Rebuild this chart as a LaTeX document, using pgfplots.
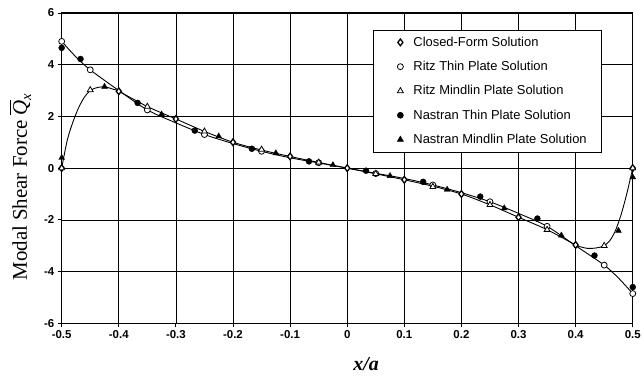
\documentclass[border=0pt]{standalone}
\usepackage{amsmath}
\usepackage{pgfplots}
\pgfplotsset{compat=1.18}
\usepackage{fontspec}
\setmainfont{Liberation Serif}
\newfontfamily\arial{Liberation Sans}
\begin{document}
\begin{tikzpicture}
\begin{axis}[
  scale only axis,
  width=574pt, height=312pt,
  xmin=-0.5, xmax=0.5, ymin=-6, ymax=6,
  xtick={-0.5,-0.4,-0.3,-0.2,-0.1,0,0.1,0.2,0.3,0.4,0.5},
  xticklabels={-0.5,-0.4,-0.3,-0.2,-0.1,0,0.1,0.2,0.3,0.4,0.5},
  ytick={-6,-4,-2,0,2,4,6},
  yticklabels={-6,-4,-2,0,2,4,6},
  tick align=outside, tick pos=left,
  major tick length=4pt,
  every tick/.style={black, line width=0.8pt},
  ticklabel style={font=\arial\bfseries\fontsize{11.5}{13}\selectfont},
  grid=major,
  major grid style={black, line width=0.6pt},
  axis line style={black, line width=1.1pt},
  clip=false,
  ylabel={Modal Shear Force $\overline{\textit{Q}}_{\textit{x}}$},
  ylabel style={font=\fontsize{21}{24}\selectfont, at={(axis description cs:-0.073,0.44)}, anchor=center, rotate=0},
  xlabel={\textbf{\textit{x/a}}},
  xlabel style={font=\fontsize{20}{24}\selectfont, at={(axis description cs:0.533,-0.13)}, anchor=center},
  legend style={at={(rel axis cs:0.946,0.946)}, anchor=north east, draw=black, line width=0.6pt,
    font=\arial\fontsize{13}{15}\selectfont, row sep=9.5pt, inner xsep=13pt, inner ysep=5pt, fill=white,
    /tikz/every odd column/.append style={column sep=4pt}},
  legend cell align=left,
  legend image code/.code={\path[draw=none] (0cm,0cm) (0.75cm,0cm); \path[#1, draw=none] plot coordinates {(0.5cm,0cm)};},
]
% smooth curves
\addplot[black, line width=0.9pt, smooth, tension=0.5, forget plot] coordinates {
(-0.5,0) (-0.49,1.1) (-0.48,1.8) (-0.47,2.35) (-0.46,2.75) (-0.45,3.0) (-0.44,3.1) (-0.43,3.14) (-0.42,3.12) (-0.41,3.05) (-0.4,2.97)
(-0.35,2.38) (-0.3,1.9) (-0.25,1.42) (-0.2,1.0) (-0.15,0.7) (-0.1,0.45) (-0.05,0.22) (0,0)
(0.05,-0.22) (0.1,-0.45) (0.15,-0.7) (0.2,-1.0) (0.25,-1.42) (0.3,-1.9) (0.35,-2.38) (0.4,-2.97)
(0.41,-3.05) (0.42,-3.1) (0.43,-3.1) (0.44,-3.07) (0.45,-3.0) (0.46,-2.8) (0.47,-2.4) (0.48,-1.77) (0.49,-0.95) (0.5,0)};
\addplot[black, line width=0.9pt, smooth, tension=0.5, forget plot] coordinates {
(-0.5,4.9) (-0.475,4.3) (-0.45,3.8) (-0.4,3.0) (-0.35,2.25) (-0.3,1.75) (-0.25,1.3) (-0.2,0.95) (-0.15,0.65) (-0.1,0.4) (-0.05,0.2) (0,0)
(0.05,-0.2) (0.1,-0.4) (0.15,-0.65) (0.2,-0.95) (0.25,-1.3) (0.3,-1.75) (0.35,-2.25) (0.4,-3.0) (0.45,-3.75) (0.475,-4.25) (0.5,-4.85)};
% markers
\addplot[only marks, mark=diamond*, mark size=3.4pt, mark options={fill=white, draw=black, line width=1.3pt}] coordinates {
(-0.5,0) (-0.4,2.97) (-0.3,1.9) (-0.2,1.0) (-0.1,0.45) (0,0) (0.1,-0.45) (0.2,-1.0) (0.3,-1.9) (0.4,-2.97) (0.5,0)};
\addlegendentry{Closed-Form Solution}
\addplot[only marks, mark=*, mark size=3pt, mark options={fill=white, draw=black, line width=0.8pt}] coordinates {
(-0.5,4.9) (-0.45,3.8) (-0.35,2.25) (-0.25,1.3) (-0.15,0.65) (-0.05,0.21) (0.05,-0.21) (0.15,-0.65) (0.25,-1.3) (0.35,-2.25) (0.45,-3.75) (0.5,-4.85)};
\addlegendentry{Ritz Thin Plate Solution}
\addplot[only marks, mark=triangle*, mark size=3.4pt, mark options={fill=white, draw=black, line width=0.8pt}] coordinates {
(-0.5,0) (-0.45,3.02) (-0.35,2.38) (-0.25,1.42) (-0.15,0.72) (-0.05,0.22) (0.05,-0.22) (0.15,-0.72) (0.25,-1.42) (0.35,-2.38) (0.45,-3.0) (0.5,0)};
\addlegendentry{Ritz Mindlin Plate Solution}
\addplot[only marks, mark=*, mark size=3pt, mark options={fill=black, draw=black}] coordinates {
(-0.5,4.65) (-0.467,4.22) (-0.367,2.52) (-0.267,1.45) (-0.167,0.75) (-0.067,0.26) (0.033,-0.1) (0.133,-0.53) (0.233,-1.1) (0.333,-1.95) (0.433,-3.38) (0.5,-4.6)};
\addlegendentry{Nastran Thin Plate Solution}
\addplot[only marks, mark=triangle*, mark size=3.4pt, mark options={fill=black, draw=black}] coordinates {
(-0.5,0.4) (-0.425,3.15) (-0.325,2.08) (-0.225,1.23) (-0.125,0.58) (-0.025,0.12) (0.075,-0.3) (0.175,-0.83) (0.275,-1.55) (0.375,-2.6) (0.475,-2.42) (0.5,-0.35)};
\addlegendentry{Nastran Mindlin Plate Solution}
\end{axis}
\path ([shift={(-62pt,-58pt)}]current axis.south west) rectangle ([shift={(8pt,13pt)}]current axis.north east);
\end{tikzpicture}
\end{document}
